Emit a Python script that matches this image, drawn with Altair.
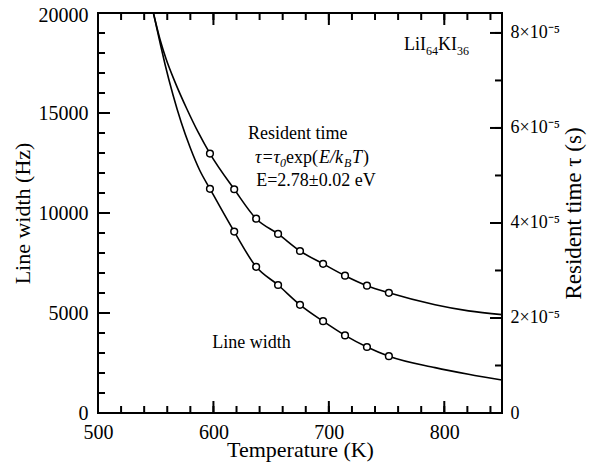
import altair as alt
import pandas as pd

# ---------------- data ----------------
temp_pts = [597, 618, 637, 656, 675, 695, 714, 733, 752]
linewidth_pts = [11210, 9070, 7310, 6400, 5410, 4590, 3880, 3300, 2840]
tau_pts = [5.46e-5, 4.71e-5, 4.09e-5, 3.77e-5, 3.41e-5, 3.14e-5, 2.89e-5, 2.68e-5, 2.53e-5]

lw_fit_T = [548, 554, 558, 565, 572, 580, 588, 597, 618, 637, 656, 675, 695, 714, 733, 752, 792, 821, 850]
lw_fit = [20000, 18450, 17450, 15900, 14550, 13250, 12150, 11210, 9070, 7310, 6400, 5410, 4590, 3880,
          3300, 2840, 2270, 1940, 1650]
tau_fit_T = [548, 554, 559, 567, 577, 587, 597, 618, 637, 656, 675, 695, 714, 733, 752, 792, 821, 850]
tau_fit = [8.42e-5, 7.84e-5, 7.45e-5, 6.95e-5, 6.40e-5, 5.90e-5, 5.46e-5, 4.71e-5, 4.09e-5, 3.77e-5,
           3.41e-5, 3.14e-5, 2.89e-5, 2.68e-5, 2.53e-5, 2.28e-5, 2.15e-5, 2.07e-5]

x_major = [500, 600, 700, 800]
x_minor = [500, 520, 540, 560, 580, 600, 620, 640, 660, 680, 700, 720, 740, 760, 780, 800, 820, 840]
lw_major = [0, 5000, 10000, 15000, 20000]
lw_minor = [0, 1000, 2000, 3000, 4000, 5000, 6000, 7000, 8000, 9000, 10000, 11000, 12000, 13000,
            14000, 15000, 16000, 17000, 18000, 19000, 20000]
tau_major = [0, 2e-5, 4e-5, 6e-5, 8e-5]
tau_minor = [0, 1e-5, 2e-5, 3e-5, 4e-5, 5e-5, 6e-5, 7e-5, 8e-5]

X_DOM = [500, 850]
LW_DOM = [0, 20000]
TAU_DOM = [0, 8.42e-5]

W, H = 404, 400
FONT = "Liberation Serif"
MAJOR, MINOR = 12, 7

lw_pts_df = pd.DataFrame({"T": temp_pts, "v": linewidth_pts})
tau_pts_df = pd.DataFrame({"T": temp_pts, "v": tau_pts})
lw_fit_df = pd.DataFrame({"T": lw_fit_T, "v": lw_fit})
tau_fit_df = pd.DataFrame({"T": tau_fit_T, "v": tau_fit})


def xenc(axis=None):
    return alt.X("T:Q", scale=alt.Scale(domain=X_DOM, nice=False, zero=False), axis=axis)


def yenc(axis, dom):
    return alt.Y("v:Q", scale=alt.Scale(domain=dom, nice=False, zero=False), axis=axis)


x_label_axis = alt.Axis(orient="bottom", values=x_major, format="d", tickSize=0, labelPadding=9,
                        domain=False, grid=False, title="Temperature (K)", titlePadding=-3)
y_left_label_axis = alt.Axis(orient="left", values=lw_major, format="d", tickSize=0, labelPadding=10,
                             domain=False, grid=False, title="Line width (Hz)", titlePadding=4,
                             labelOffset=alt.condition("datum.value == 20000", alt.value(2), alt.value(0)))
y_right_label_axis = alt.Axis(orient="right", values=tau_major, tickSize=0, labelPadding=8,
                              domain=False, grid=False, title="Resident time τ (s)",
                              titleAngle=270, titleBaseline="top", titlePadding=3,
                              labelFontSize=18, titleFontSize=23,
                              labelExpr="datum.value == 0 ? '0' : round(datum.value*1e5) + '×10⁻⁵'")

lw_line = alt.Chart(lw_fit_df).mark_line(color="black", strokeWidth=1.6, interpolate="monotone", clip=True).encode(
    x=xenc(x_label_axis), y=yenc(y_left_label_axis, LW_DOM))
tau_line = alt.Chart(tau_fit_df).mark_line(color="black", strokeWidth=1.6, interpolate="monotone", clip=True).encode(
    x=xenc(), y=yenc(y_right_label_axis, TAU_DOM))

pt_style = dict(shape="circle", filled=True, fill="white", stroke="black", strokeWidth=1.5, size=45, opacity=1)
lw_points = alt.Chart(lw_pts_df).mark_point(**pt_style).encode(x=xenc(), y=yenc(None, LW_DOM))
tau_points = alt.Chart(tau_pts_df).mark_point(**pt_style).encode(x=xenc(), y=yenc(None, TAU_DOM))


# ---------------- inward ticks, placed through the scales ----------------
def x_ticks(values, y0, y1):
    df = pd.DataFrame({"T": values})
    return alt.Chart(df).mark_rule(color="black", strokeWidth=2).encode(
        x=xenc(), y=alt.value(y0), y2=alt.value(y1))


def y_ticks(values, dom, x0, x1):
    df = pd.DataFrame({"v": values})
    return alt.Chart(df).mark_rule(color="black", strokeWidth=2).encode(
        y=yenc(None, dom), x=alt.value(x0), x2=alt.value(x1))


tick_layers = [
    x_ticks(x_major, H, H - MAJOR), x_ticks(x_minor, H, H - MINOR),
    x_ticks(x_major, 0, MAJOR), x_ticks(x_minor, 0, MINOR),
    y_ticks(lw_major, LW_DOM, 0, MAJOR), y_ticks(lw_minor, LW_DOM, 0, MINOR),
    y_ticks(tau_major, TAU_DOM, W, W - MAJOR), y_ticks(tau_minor, TAU_DOM, W, W - MINOR),
]

# ---------------- annotations ----------------
ann_texts = ["LiI", "64", "KI", "36",
             "Resident time",
             "τ=τ", "0", "exp(", "E/k", "B", "T", ")",
             "E=2.78±0.02 eV",
             "Line width"]
ann_T = [765, 765, 765, 765,
         630,
         636, 636, 636, 636, 636, 636, 636,
         637,
         599]
ann_v = [18159, 18159, 18159, 18159,
         13700,
         12500, 12500, 12500, 12500, 12500, 12500, 12500,
         11350,
         3234]
ann_dx = [0, 22, 34, 53, 0, 0, 25, 31, 64, 89, 97, 108, 0, 0]
ann_dy = [0, 5, 0, 5, 0, 0, 4, 0, 0, 4, 0, 0, 0, 0]
ann_size = [18, 12, 18, 12, 18, 18, 12, 18, 18, 12, 18, 18, 18, 18]
ann_style = ["normal", "normal", "normal", "normal", "normal",
             "italic", "italic", "normal", "italic", "italic", "italic", "normal",
             "normal", "normal"]

text_layers = []
for i, t in enumerate(ann_texts):
    df = pd.DataFrame({"T": [ann_T[i]], "v": [ann_v[i]], "label": [t]})
    text_layers.append(
        alt.Chart(df).mark_text(align="left", baseline="alphabetic", dx=ann_dx[i], dy=ann_dy[i],
                                fontSize=ann_size[i], fontStyle=ann_style[i], font=FONT, color="black").encode(
            x=xenc(), y=yenc(None, LW_DOM), text="label:N")
    )

chart = alt.layer(lw_line, tau_line, *tick_layers, lw_points, tau_points, *text_layers).resolve_scale(
    y="independent"
).resolve_axis(
    x="independent", y="independent"
).properties(
    width=W, height=H,
    autosize=alt.AutoSizeParams(type="none"),
    padding={"left": 90, "top": 5, "right": 88, "bottom": 52},
).configure_view(
    stroke="black", strokeWidth=2
).configure_axis(
    labelFont=FONT, titleFont=FONT, labelFontSize=20, titleFontSize=22,
    labelColor="black", titleColor="black", titleFontWeight="normal", tickColor="black",
    labelFlush=False, labelOverlap=False
)

chart.save("out.html", embed_options={"renderer": "svg", "actions": False})
